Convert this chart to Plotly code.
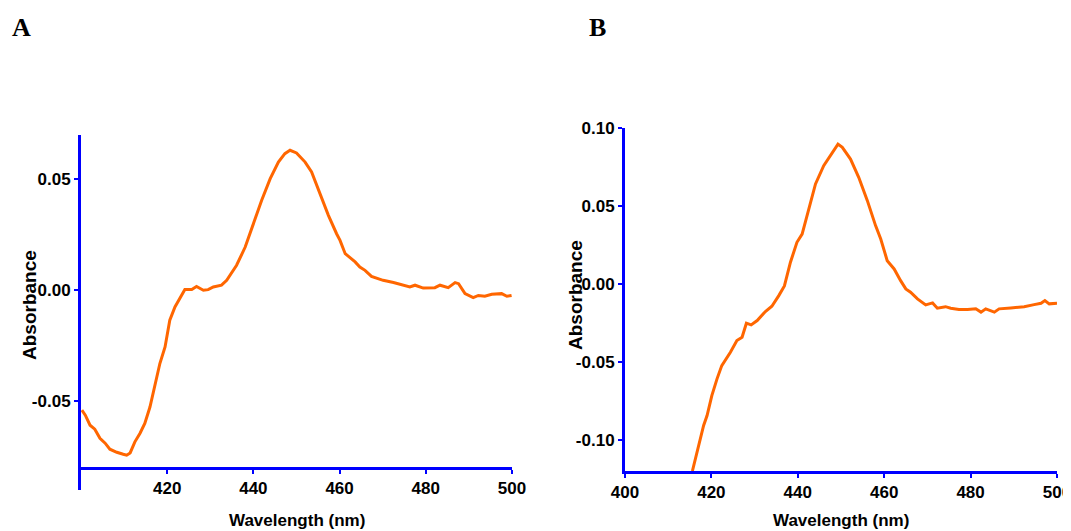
import plotly.graph_objects as go

# ── Data ─────────────────────────────────────────────────────────────────────

wavelength_a = [400.2, 401.0, 402.1, 403.2, 404.4, 405.6, 406.7, 408.3, 409.8, 410.6,
                411.4, 412.5, 413.7, 414.8, 416.0, 417.2, 418.3, 419.5, 420.6, 421.8,
                423.0, 424.1, 425.7, 426.8, 428.4, 429.5, 430.7, 432.6, 433.8, 435.0,
                436.1, 438.1, 440.0, 441.9, 443.9, 445.8, 447.3, 448.5, 450.0, 452.0,
                453.5, 455.5, 457.4, 459.3, 460.1, 461.3, 463.6, 464.7, 465.9, 467.4,
                470.1, 472.5, 474.8, 476.3, 477.5, 479.4, 482.1, 483.3, 485.2, 486.8,
                487.6, 489.1, 491.0, 492.2, 493.7, 495.3, 497.6, 498.8, 499.9]
absorbance_a = [-0.0540, -0.0563, -0.0608, -0.0626, -0.0667, -0.0689, -0.0716, -0.0730, -0.0739, -0.0743,
                -0.0733, -0.0683, -0.0644, -0.0600, -0.0526, -0.0420, -0.0330, -0.0255, -0.0135, -0.0075,
                -0.0030, 0.0004, 0.0004, 0.0017, 0.0000, 0.0003, 0.0015, 0.0023, 0.0045, 0.0080,
                0.0113, 0.0195, 0.0300, 0.0405, 0.0503, 0.0578, 0.0616, 0.0631, 0.0619, 0.0578,
                0.0533, 0.0435, 0.0338, 0.0255, 0.0225, 0.0165, 0.0128, 0.0105, 0.0090, 0.0063,
                0.0045, 0.0035, 0.0023, 0.0015, 0.0023, 0.0010, 0.0012, 0.0023, 0.0012, 0.0035,
                0.0030, -0.0015, -0.0033, -0.0023, -0.0027, -0.0018, -0.0015, -0.0027, -0.0023]

wavelength_b = [415.6, 417.0, 418.2, 419.0, 420.1, 421.3, 422.4, 424.4, 425.9, 427.1,
                428.1, 429.2, 430.6, 432.5, 434.0, 435.6, 436.9, 438.3, 439.8, 441.0,
                442.2, 444.1, 446.0, 448.0, 449.3, 450.3, 452.2, 454.1, 456.1, 458.0,
                459.2, 460.7, 462.3, 463.8, 465.0, 466.1, 467.7, 469.6, 471.2, 472.3,
                474.2, 475.4, 477.3, 479.3, 481.2, 482.4, 483.5, 485.5, 486.6, 489.3,
                492.4, 494.7, 496.3, 497.2, 498.2, 500.0]
absorbance_b = [-0.1200, -0.1036, -0.0908, -0.0844, -0.0716, -0.0609, -0.0524, -0.0438, -0.0363, -0.0342,
                -0.0252, -0.0263, -0.0235, -0.0177, -0.0143, -0.0075, -0.0013, 0.0139, 0.0267, 0.0320,
                0.0449, 0.0641, 0.0758, 0.0844, 0.0897, 0.0876, 0.0801, 0.0684, 0.0534, 0.0374,
                0.0288, 0.0149, 0.0096, 0.0021, -0.0032, -0.0053, -0.0096, -0.0135, -0.0122, -0.0156,
                -0.0146, -0.0156, -0.0164, -0.0164, -0.0160, -0.0181, -0.0160, -0.0181, -0.0160, -0.0154,
                -0.0146, -0.0133, -0.0124, -0.0107, -0.0128, -0.0124]

x_ticks_a = [420, 440, 460, 480, 500]
x_ticks_b = [400, 420, 440, 460, 480, 500]
y_ticks_a = [-0.05, 0.00, 0.05]
y_ticks_a_text = ["-0.05", "0.00", "0.05"]
y_ticks_b = [-0.10, -0.05, 0.00, 0.05, 0.10]
y_ticks_b_text = ["-0.10", "-0.05", "0.00", "0.05", "0.10"]

# ── Style ────────────────────────────────────────────────────────────────────

# the page body has an 8px margin, so the figure is drawn 8px in from the corner
OFF = 8
W, H = 1071 - OFF, 531 - OFF
BLUE = "#0000FF"
ORANGE = "#FF6600"
FONT = "Liberation Sans, Arial, sans-serif"
TICKFONT = dict(family=FONT, size=17, color="black", weight="bold")


def px_x(p):
    return (p - OFF) / W


def px_y(p):
    return 1 - (p - OFF) / H


def axis_style(**kw):
    base = dict(
        showgrid=False, zeroline=False, showline=True,
        linecolor=BLUE, linewidth=3,
        ticks="outside", ticklen=4, tickwidth=2, tickcolor=BLUE,
        tickfont=TICKFONT, automargin=False, ticklabeloverflow="allow",
    )
    base.update(kw)
    return base


fig = go.Figure()
fig.add_trace(go.Scatter(x=wavelength_a, y=absorbance_a, mode="lines",
                         line=dict(color=ORANGE, width=3), xaxis="x", yaxis="y"))
fig.add_trace(go.Scatter(x=wavelength_b, y=absorbance_b, mode="lines",
                         line=dict(color=ORANGE, width=3), xaxis="x2", yaxis="y2"))

fig.update_layout(
    width=W, height=H,
    margin=dict(l=0, r=0, t=0, b=0),
    paper_bgcolor="white", plot_bgcolor="white",
    showlegend=False,
    # panel A: x axis crosses the y axis at -0.08
    xaxis=axis_style(domain=[px_x(81), px_x(512)], range=[400, 500],
                     tickvals=x_ticks_a, anchor="free", position=px_y(468)),
    yaxis=axis_style(domain=[px_y(490), px_y(135)], range=[-0.09, 0.07],
                     tickvals=y_ticks_a, ticktext=y_ticks_a_text, anchor="x"),
    # panel B
    xaxis2=axis_style(domain=[px_x(625), px_x(1057)], range=[400, 500],
                      tickvals=x_ticks_b, anchor="y2"),
    yaxis2=axis_style(domain=[px_y(471), px_y(128)], range=[-0.12, 0.10],
                      tickvals=y_ticks_b, ticktext=y_ticks_b_text, anchor="x2"),
)

labels = [
    ("A", 21, 28, 0, dict(family="Liberation Serif, Times New Roman, serif", size=26, weight="bold")),
    ("B", 597, 28, 0, dict(family="Liberation Serif, Times New Roman, serif", size=26, weight="bold")),
    ("Absorbance", 29, 305, -90, dict(family=FONT, size=19, weight="bold")),
    ("Absorbance", 575, 295, -90, dict(family=FONT, size=19, weight="bold")),
    ("Wavelength (nm)", 297, 520, 0, dict(family=FONT, size=17, weight="bold")),
    ("Wavelength (nm)", 841, 520, 0, dict(family=FONT, size=17, weight="bold")),
]
for text, x, y, angle, font in labels:
    fig.add_annotation(text=text, x=px_x(x), y=px_y(y), xref="paper", yref="paper",
                       showarrow=False, textangle=angle, xanchor="center", yanchor="middle",
                       font=dict(color="black", **font))

fig.write_html("out.html")
